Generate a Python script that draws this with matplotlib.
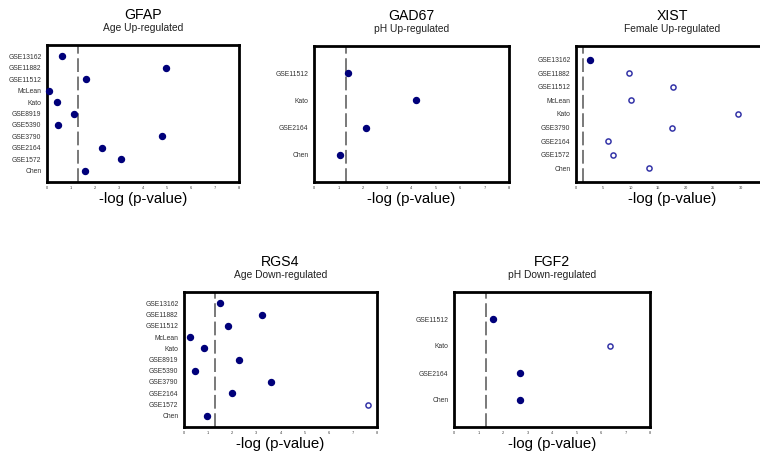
import matplotlib
matplotlib.use("Agg")
import matplotlib.pyplot as plt

plt.rcParams['font.family'] = ['Liberation Sans', 'DejaVu Sans']

# Datasets (top to bottom)
GFAP_SETS = ["GSE13162", "GSE11882", "GSE11512", "McLean", "Kato", "GSE8919",
             "GSE5390", "GSE3790", "GSE2164", "GSE1572", "Chen"]
GFAP_VALS = [0.64, 4.96, 1.64, 0.08, 0.43, 1.12, 0.47, 4.81, 2.31, 3.08, 1.57]
GFAP_OPEN = [False] * 11

GAD67_SETS = ["GSE11512", "Kato", "GSE2164", "Chen"]
GAD67_VALS = [1.38, 4.2, 2.13, 1.05]
GAD67_OPEN = [False] * 4

XIST_SETS = ["GSE13162", "GSE11882", "GSE11512", "McLean", "Kato",
             "GSE3790", "GSE2164", "GSE1572", "Chen"]
XIST_VALS = [2.5, 9.6, 17.6, 10.1, 29.6, 17.5, 5.9, 6.7, 13.3]
XIST_OPEN = [False, True, True, True, True, True, True, True, True]

RGS4_SETS = ["GSE13162", "GSE11882", "GSE11512", "McLean", "Kato", "GSE8919",
             "GSE5390", "GSE3790", "GSE2164", "GSE1572", "Chen"]
RGS4_VALS = [1.48, 3.24, 1.81, 0.24, 0.84, 2.26, 0.44, 3.6, 2.0, 7.63, 0.95]
RGS4_OPEN = [False] * 9 + [True, False]

FGF2_SETS = ["GSE11512", "Kato", "GSE2164", "Chen"]
FGF2_VALS = [1.6, 6.36, 2.68, 2.68]
FGF2_OPEN = [False, True, False, False]

THRESHOLD = 1.3  # -log10(0.05)

W, H = 760, 466


def panel(box, gene, subtitle, sets, vals, opens, xmax, xticks):
    x0, y0, x1, y1 = box
    ax = fig.add_axes([x0 / W, 1 - y1 / H, (x1 - x0) / W, (y1 - y0) / H])
    n = len(sets)
    pos = list(range(n))
    for p, v, o in zip(pos, vals, opens):
        if o:
            ax.plot(v, p, 'o', ms=3.7, mfc='white', mec='#3535a8', mew=1.1, clip_on=False, zorder=3)
        else:
            ax.plot(v, p, 'o', ms=4.3, color='#00007a', clip_on=False, zorder=3)
    ax.axvline(THRESHOLD, color='#555555', lw=1.1, dashes=(9, 3))
    ax.set_xlim(0, xmax)
    ax.set_ylim(n, -1)
    ax.set_yticks(pos)
    ax.set_yticklabels(sets, fontsize=4.9, color='#333333')
    ax.set_xticks(xticks)
    ax.set_xticklabels([str(t) for t in xticks], fontsize=2.8, color='#333333')
    ax.tick_params(length=0, pad=3)
    ax.tick_params(axis='y', pad=4)
    for s in ax.spines.values():
        s.set_linewidth(2.0)
        s.set_color('black')
    cx = (x0 + x1) / 2 / W
    fig.text(cx, 1 - (y0 - 30) / H, gene, ha='center', va='center', fontsize=10.2)
    fig.text(cx, 1 - (y0 - 17) / H, subtitle, ha='center', va='center', fontsize=7.4, color='#222222')
    fig.text(cx, 1 - (y1 + 17) / H, "-log (p-value)", ha='center', va='center', fontsize=10.8)
    return ax


fig = plt.figure(figsize=(7.6, 4.66), dpi=100)

eight = list(range(9))
panel((47, 45, 239, 182), "GFAP", "Age Up-regulated", GFAP_SETS, GFAP_VALS, GFAP_OPEN, 8, eight)
panel((314, 46, 509, 182), "GAD67", "pH Up-regulated", GAD67_SETS, GAD67_VALS, GAD67_OPEN, 8, eight)
panel((576, 46, 768, 182), "XIST", "Female Up-regulated", XIST_SETS, XIST_VALS, XIST_OPEN, 35,
      [0, 5, 10, 15, 20, 25, 30])
panel((184, 292, 377, 427), "RGS4", "Age Down-regulated", RGS4_SETS, RGS4_VALS, RGS4_OPEN, 8, eight)
panel((454, 292, 650, 427), "FGF2", "pH Down-regulated", FGF2_SETS, FGF2_VALS, FGF2_OPEN, 8, eight)

fig.savefig("out.png", dpi=100)
